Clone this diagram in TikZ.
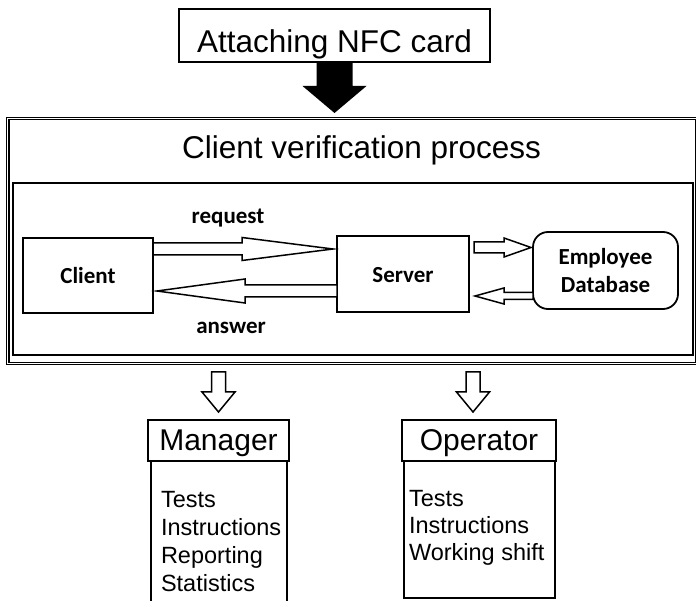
\documentclass[tikz,border=0pt]{standalone}
\usepackage{fontspec}
\setmainfont{Liberation Sans}
\newfontfamily\calfont{Carlito}
\usetikzlibrary{calc}
\newcommand{\fBig}{\fontsize{31.5}{38}\selectfont}
\newcommand{\fHead}{\fontsize{30}{36}\selectfont}
\newcommand{\fListA}{\fontsize{23.5}{28}\selectfont}
\newcommand{\fListB}{\fontsize{23.5}{27}\selectfont}
\newcommand{\fCal}{\calfont\bfseries\fontsize{23}{28}\selectfont}
% horizontal hollow arrow: #1 start point, #2 tip point, #3 y, #4 shaft half, #5 head half, #6 signed head length
\newcommand{\harr}[6]{%
  \draw[hollow] let \p1=(#1), \p2=(#2) in
    (\x1,{#3+#4}) -- ({\x2-(#6)},{#3+#4}) -- ({\x2-(#6)},{#3+#5}) -- (\x2,#3)
    -- ({\x2-(#6)},{#3-#5}) -- ({\x2-(#6)},{#3-#4}) -- (\x1,{#3-#4}) -- cycle;}
% vertical (downward) hollow arrow: #1 x point, #2 start point, #3 tip point, #4 shaft half, #5 head half, #6 head length
\newcommand{\varr}[6]{%
  \draw[hollow] let \p0=(#1), \p1=(#2), \p2=(#3) in
    ({\x0-#4},\y1) -- ({\x0-#4},{\y2+#6}) -- ({\x0-#5},{\y2+#6}) -- (\x0,\y2)
    -- ({\x0+#5},{\y2+#6}) -- ({\x0+#4},{\y2+#6}) -- ({\x0+#4},\y1) -- cycle;}
\begin{document}
\begin{tikzpicture}[x=1pt,y=1pt,
  box/.style={draw, line width=1.8pt, inner sep=0pt, outer sep=0pt},
  hollow/.style={draw, line width=1.5pt, fill=white, line join=miter},
  plain/.style={inner sep=0pt, outer sep=0pt}]
\useasboundingbox (0,0) rectangle (696,600);
\fill[white] (0,0) rectangle (696,600);

% top box
\node[box, minimum width=311pt, minimum height=53pt, text height=35pt, text depth=0pt, font=\fBig] (top) at (334.5,564.5) {Attaching NFC card};

% outer process box
\node[draw, line width=1.2pt, double, double distance=1.2pt, plain, minimum width=689.2pt, minimum height=245pt] (outer) at (352.4,359) {};
\node[plain, font=\fBig, anchor=base] (title) at (361.5,441) {Client verification process};

% thick arrow
\fill let \p1=(top.south), \p2=(outer.north) in
  ({\x1-18},\y1) -- ({\x1-18},{\y2+32.5}) -- ({\x1-32},{\y2+32.5}) -- (\x1,{\y2+5.5})
  -- ({\x1+32},{\y2+32.5}) -- ({\x1+18},{\y2+32.5}) -- ({\x1+18},\y1) -- cycle;

% inner box
\node[box, minimum width=680pt, minimum height=172pt] (inner) at (353,331) {};

\node[box, minimum width=130pt, minimum height=75pt, text height=17pt, text depth=0pt, font=\fCal] (client) at (88,324.5) {Client};
\node[box, minimum width=132pt, minimum height=76pt, text height=18pt, text depth=0pt, font=\fCal] (server) at (403,326) {Server};
\node[box, rounded corners=15pt, minimum width=145pt, minimum height=77pt, align=center, font=\fCal] (db) at (605.5,329.5) {Employee\\Database};

\node[plain, font=\fCal, anchor=base] (req) at (228,376) {request};
\node[plain, font=\fCal, anchor=base] (ans) at (231,266) {answer};

\harr{client.east}{$(server.west)+(-4,0)$}{351}{6}{11.5}{91}
\harr{server.west}{$(client.east)+(4,0)$}{309}{6}{12}{-88}
\harr{$(server.east)+(5,0)$}{$(db.west)+(-2,0)$}{352.5}{5.5}{9.5}{27}
\harr{db.west}{$(server.east)+(6,0)$}{304}{3.5}{8}{-29}

% manager
\node[box, minimum width=136pt, minimum height=142pt] (mbody) at (219,68) {};
\node[box, fill=white, minimum width=141pt, minimum height=41pt, text height=20pt, text depth=0pt, font=\fHead] (mhead) at (218.5,159.5) {Manager};
\node[plain, font=\fListA, align=left, anchor=north west] (mlist) at (161,108.4) {Tests\\Instructions\\Reporting\\Statistics};

% operator
\node[box, minimum width=151pt, minimum height=137pt] (obody) at (479.5,70.5) {};
\node[box, fill=white, minimum width=154pt, minimum height=41pt, text height=20pt, text depth=0pt, font=\fHead] (ohead) at (479,159.5) {Operator};
\node[plain, font=\fListB, align=left, anchor=north west] (olist) at (409,109.4) {Tests\\Instructions\\Working shift};

% down arrows
\varr{mhead.north}{$(outer.south)+(0,-8.5)$}{$(mhead.north)+(0,8)$}{7}{16.5}{20}
\varr{$(ohead.north)+(-6,0)$}{$(outer.south)+(0,-8.5)$}{$(ohead.north)+(0,8)$}{7}{16.5}{20}
\end{tikzpicture}
\end{document}
